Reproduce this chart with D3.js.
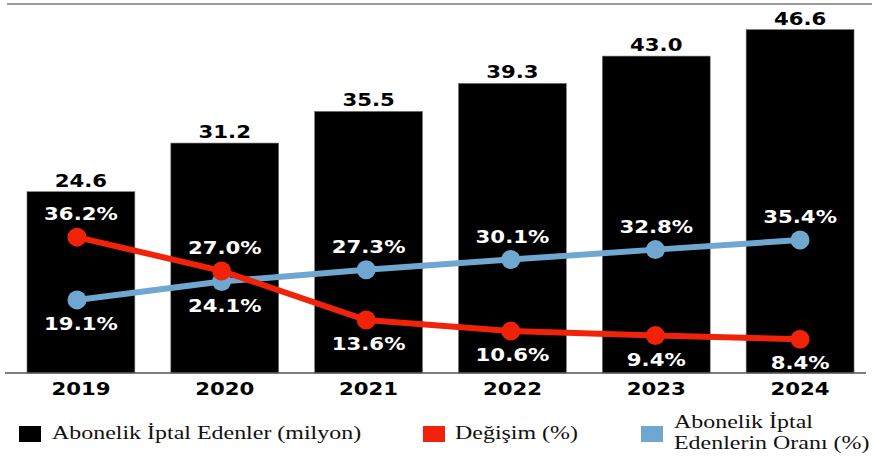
<!DOCTYPE html>
<html>
<head>
<meta charset="utf-8">
<script src="https://cdn.jsdelivr.net/npm/d3@7"></script>
<style>
  body { margin: 0; background: #fff; }
  svg { display: block; }
</style>
</head>
<body>
<div id="chart"></div>
<script>
// data
const years = ["2019", "2020", "2021", "2022", "2023", "2024"];
const cancelled = [24.6, 31.2, 35.5, 39.3, 43.0, 46.6];   // milyon
const change = [36.2, 27.0, 13.6, 10.6, 9.4, 8.4];       // %
const ratio = [19.1, 24.1, 27.3, 30.1, 32.8, 35.4];      // %
const legendLabels = [
  ["Abonelik İptal Edenler (milyon)"],
  ["Değişim (%)"],
  ["Abonelik İptal", "Edenlerin Oranı (%)"]
];

const width = 872, height = 457;
const black = "#000", red = "#f0230a", blue = "#6fa7d1";
const boldFont = "'DejaVu Sans', Verdana, sans-serif";
const serifFont = "'Liberation Serif', 'Times New Roman', serif";

const svg = d3.select("#chart").append("svg")
  .attr("width", width)
  .attr("height", height);

const x = d3.scaleBand()
  .domain(years)
  .range([9, 872])
  .paddingInner(0.25)
  .paddingOuter(0.125);

const xLine = d3.scalePoint()
  .domain(years)
  .range([77, 800]);

const y = d3.scaleLinear().domain([0, 50]).range([373, 4.5]);
const yPct = d3.scaleLinear().domain([0, 100]).range([370, 3]);

// the original is widened, so text is drawn a bit stretched
function label(g, tx, ty, text, opts) {
  return g.append("text")
    .attr("transform", "translate(" + tx + "," + ty + ") scale(" + (opts.stretch || 1.18) + ",1)")
    .attr("text-anchor", opts.anchor || "middle")
    .attr("font-family", opts.font || boldFont)
    .attr("font-weight", opts.weight || "bold")
    .attr("font-size", opts.size || 18)
    .attr("fill", opts.fill || black)
    .text(text);
}

// top rule
svg.append("line")
  .attr("x1", 7).attr("x2", width)
  .attr("y1", 4).attr("y2", 4)
  .attr("stroke", "#9a9a9a").attr("stroke-width", 2);

// bars
const bars = svg.append("g");
bars.selectAll("rect")
  .data(cancelled)
  .enter().append("rect")
  .attr("x", (d, i) => x(years[i]))
  .attr("y", d => y(d))
  .attr("width", x.bandwidth())
  .attr("height", d => y(0) - y(d))
  .attr("fill", black)
  .attr("stroke", "#777")
  .attr("stroke-width", 0.6);

cancelled.forEach((d, i) => {
  label(bars, x(years[i]) + x.bandwidth() / 2, y(d) - 5, d.toFixed(1), {});
});

// baseline + year axis
const axis = svg.append("g")
  .attr("transform", "translate(0," + y(0) + ")")
  .call(d3.axisBottom(x).tickSize(0).tickFormat(""));
axis.select(".domain")
  .attr("d", "M5,0H866")
  .attr("stroke", "#555")
  .attr("stroke-width", 1.5);
axis.selectAll(".tick").each(function (d) {
  label(d3.select(this), 0, 22, d, {});
});

// lines
const line = d3.line()
  .x((d, i) => xLine(years[i]))
  .y(d => yPct(d));

function drawSeries(values, other, color) {
  const g = svg.append("g");
  g.append("path")
    .datum(values)
    .attr("d", line)
    .attr("fill", "none")
    .attr("stroke", color)
    .attr("stroke-width", 6)
    .attr("stroke-linejoin", "round");
  g.selectAll("circle")
    .data(values)
    .enter().append("circle")
    .attr("cx", (d, i) => xLine(years[i]))
    .attr("cy", d => yPct(d))
    .attr("r", 9.5)
    .attr("fill", color);
  values.forEach((d, i) => {
    const above = d > other[i];
    const cx = x(years[i]) + x.bandwidth() / 2;
    const ty = above ? yPct(d) - 17 : yPct(d) + 30;
    label(g, cx, ty, d.toFixed(1) + "%", { fill: "#fff" });
  });
}

drawSeries(ratio, change, blue);
drawSeries(change, ratio, red);

// legend
const legendColors = [black, red, blue];
const legendX = [19, 423, 641];
const legend = svg.append("g");
const legendText = { anchor: "start", font: serifFont, weight: "normal", size: 19, fill: "#111", stretch: 1.26 };
legendLabels.forEach((lines, i) => {
  legend.append("rect")
    .attr("x", legendX[i])
    .attr("y", 426)
    .attr("width", 22)
    .attr("height", 16)
    .attr("fill", legendColors[i]);
  const tx = legendX[i] + (i === 1 ? 32 : 33);
  if (lines.length === 1) {
    label(legend, tx, 439, lines[0], legendText);
  } else {
    label(legend, tx, 428, lines[0], legendText);
    label(legend, tx, 449, lines[1], legendText);
  }
});
</script>
</body>
</html>
